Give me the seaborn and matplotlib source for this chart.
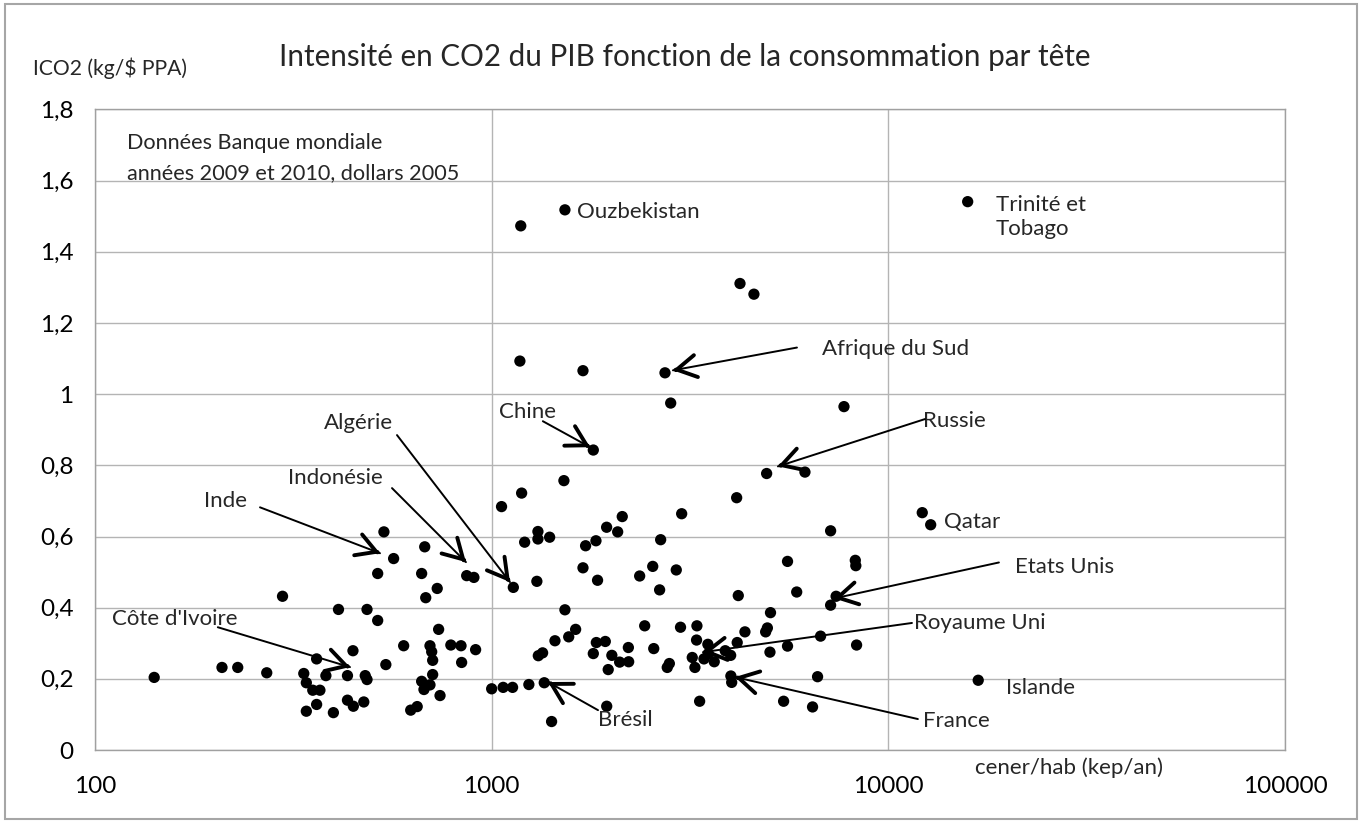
import numpy as np
import pandas as pd
import matplotlib
matplotlib.use('Agg')
import matplotlib.pyplot as plt
from matplotlib.patches import Rectangle
import seaborn as sns

# consommation d'energie par habitant (kep/an) et intensite CO2 (kg/$ PPA)
cener = [141, 209, 229, 271, 297, 535, 566, 678, 516, 666, 865, 902, 729, 682, 1059,
         411, 485, 516, 735, 600, 699, 706, 710, 789, 837, 911, 840, 541, 447, 362,
         336, 382, 433, 480, 485, 710, 666, 699, 675, 741, 341, 354, 369, 362, 341,
         399, 433, 448, 476, 625, 649,
         1190, 1521, 4146, 3013, 2134, 1949, 2078, 1308, 1308, 1400, 1211, 1725, 1832,
         2667, 7153, 5570, 8255, 8280, 1699, 2547, 2920, 2361, 1300, 1849, 1134, 2651,
         5875, 4185, 7385, 7153, 1530, 5046, 2431, 2993, 3292, 1628, 1564, 1444, 4350,
         4906, 4955, 6748, 1836, 1934, 2211, 2562, 3285, 3508, 4159, 5570, 8317, 1311,
         1344, 1804, 2009, 1967, 2102, 2215, 2771, 2805, 3204, 3254, 3429, 3640, 3880,
         4004, 5030, 3516, 1000, 1069, 1129, 1241, 1357, 1950, 1416, 3344, 4009, 4028,
         6631, 5445, 6441,
         1184, 1530, 4227, 4583, 1178, 1699, 2735, 2827, 7730, 1804, 4934, 6163,
         15850, 12176, 12787, 16850]
ico2 = [0.204, 0.232, 0.232, 0.217, 0.432, 0.613, 0.538, 0.571, 0.496, 0.496, 0.490, 0.485,
        0.454, 0.428, 0.684, 0.395, 0.395, 0.364, 0.339, 0.293, 0.293, 0.276, 0.252, 0.295,
        0.293, 0.282, 0.246, 0.240, 0.279, 0.256, 0.215, 0.209, 0.209, 0.209, 0.198, 0.212,
        0.193, 0.183, 0.170, 0.153, 0.189, 0.168, 0.168, 0.128, 0.109, 0.105, 0.140, 0.123,
        0.135, 0.112, 0.122,
        0.722, 0.757, 0.709, 0.664, 0.656, 0.626, 0.613, 0.614, 0.593, 0.598, 0.584, 0.574,
        0.588, 0.591, 0.616, 0.530, 0.533, 0.518, 0.512, 0.516, 0.506, 0.489, 0.474, 0.477,
        0.457, 0.450, 0.444, 0.434, 0.432, 0.407, 0.394, 0.386, 0.349, 0.345, 0.349, 0.339,
        0.318, 0.307, 0.332, 0.332, 0.343, 0.320, 0.302, 0.305, 0.288, 0.285, 0.309, 0.297,
        0.302, 0.292, 0.295, 0.265, 0.273, 0.271, 0.266, 0.226, 0.247, 0.248, 0.232, 0.243,
        0.260, 0.232, 0.256, 0.248, 0.279, 0.266, 0.275, 0.271, 0.172, 0.176, 0.176, 0.184,
        0.189, 0.123, 0.080, 0.137, 0.208, 0.190, 0.206, 0.137, 0.121,
        1.473, 1.518, 1.311, 1.281, 1.093, 1.066, 1.060, 0.975, 0.965, 0.843, 0.777, 0.781,
        1.541, 0.667, 0.633, 0.196]

yticks = [0, 0.2, 0.4, 0.6, 0.8, 1.0, 1.2, 1.4, 1.6, 1.8]
ytick_labels = ['0', '0,2', '0,4', '0,6', '0,8', '1', '1,2', '1,4', '1,6', '1,8']
xticks = [100, 1000, 10000, 100000]
xtick_labels = ['100', '1000', '10000', '100000']

# pays sans fleche : nom, position du texte
noms_seuls = [("Ouzbekistan", 1641, 1.511),
              ("Trinité et\nTobago", 18660, 1.498),
              ("Qatar", 13800, 0.640),
              ("Islande", 19790, 0.174)]
# pays avec fleche : nom, texte (x, y), depart fleche (x, y), pointe (x, y)
noms_fleche = [("Afrique du Sud", (6804, 1.128), (5883, 1.131), (2864, 1.067)),
               ("Chine", (1043, 0.949), (1346, 0.924), (1771, 0.851)),
               ("Russie", (12220, 0.924), (12370, 0.930), (5268, 0.797)),
               ("Etats Unis", (20840, 0.515), (19000, 0.527), (7295, 0.426)),
               ("Royaume Uni", (11600, 0.357), (11470, 0.357), (3410, 0.275)),
               ("France", (12220, 0.081), (11870, 0.087), (4105, 0.205)),
               ("Brésil", (1854, 0.084), (1854, 0.112), (1387, 0.191)),
               ("Côte d'Ivoire", (110.4, 0.368), (204, 0.345), (439.4, 0.233)),
               ("Inde", (188.3, 0.699), (260.6, 0.682), (523, 0.553)),
               ("Indonésie", (306.6, 0.764), (560.7, 0.736), (861.3, 0.528)),
               ("Algérie", (377.9, 0.918), (577.2, 0.885), (1112, 0.472))]

df = pd.DataFrame({'cener': cener, 'ico2': ico2})

sns.set_style('white')
plt.rcParams['font.family'] = ['Lato', 'DejaVu Sans']

W, H = 1363, 822
fig = plt.figure(figsize=(W / 100, H / 100), dpi=100)
ax = fig.add_axes([95 / W, 1 - 750 / H, (1285 - 95) / W, (750 - 109.5) / H])

gris = '#b4b4b4'
sns.scatterplot(data=df, x='cener', y='ico2', ax=ax, color='black', s=66,
                edgecolor='none', linewidth=0, zorder=3)

ax.set_xscale('log')
ax.set_xlim(100, 100000)
ax.set_ylim(0, 1.8)
ax.set_xticks(xticks)
ax.set_xticklabels(xtick_labels)
ax.set_yticks(yticks)
ax.set_yticklabels(ytick_labels)
ax.minorticks_off()
ax.grid(True, color=gris, lw=1, zorder=0)
for s in ax.spines.values():
    s.set_color('#a0a0a0')
    s.set_linewidth(1)
ax.tick_params(axis='both', direction='out', length=5.5, width=1, labelsize=17.5,
               colors='#a0a0a0', labelcolor='black')
ax.tick_params(axis='y', pad=10)
ax.tick_params(axis='x', pad=13)
ax.set_xlabel('')
ax.set_ylabel('')

fig.text(685 / W, 1 - 57 / H, "Intensité en CO2 du PIB fonction de la consommation par tête",
         ha='center', va='center', fontsize=21.3)
fig.text(33 / W, 1 - 68 / H, "ICO2 (kg/$ PPA)", ha='left', va='center', fontsize=15.2)
fig.text(127 / W, 1 - 158 / H, "Données Banque mondiale\nannées 2009 et 2010, dollars 2005",
         ha='left', va='center', fontsize=15.6, linespacing=1.6)
fig.text(975 / W, 1 - 768 / H, "cener/hab (kep/an)", ha='left', va='center', fontsize=16)

fig.patches.append(Rectangle((5 / W, 1 - 819 / H), 1352 / W, 815 / H, transform=fig.transFigure,
                             fill=False, ec='#a6a6a6', lw=1.5))

for nom, x, y in noms_seuls:
    ax.text(x, y, nom, ha='left', va='center', fontsize=16, linespacing=1.2, zorder=4)

for nom, (tx, ty), (ax0, ay0), (px, py) in noms_fleche:
    ax.text(tx, ty, nom, ha='left', va='center', fontsize=16, zorder=4)
    ax.annotate('', xy=(px, py), xytext=(ax0, ay0),
                arrowprops=dict(arrowstyle='-', lw=1.4, color='black', shrinkA=0, shrinkB=0),
                zorder=4)
    # pointe ouverte plus epaisse, orientee comme le trait
    p0 = ax.transData.transform((ax0, ay0))
    p1 = ax.transData.transform((px, py))
    d = (p0 - p1) / np.hypot(*(p0 - p1)) * 3
    ax.annotate('', xy=(px, py), xytext=(d[0], d[1]), textcoords='offset pixels',
                arrowprops=dict(arrowstyle='->,head_length=0.7,head_width=0.4', lw=2.8,
                                color='black', shrinkA=0, shrinkB=0, mutation_scale=20),
                zorder=4)

fig.savefig('out.png', dpi=100)
